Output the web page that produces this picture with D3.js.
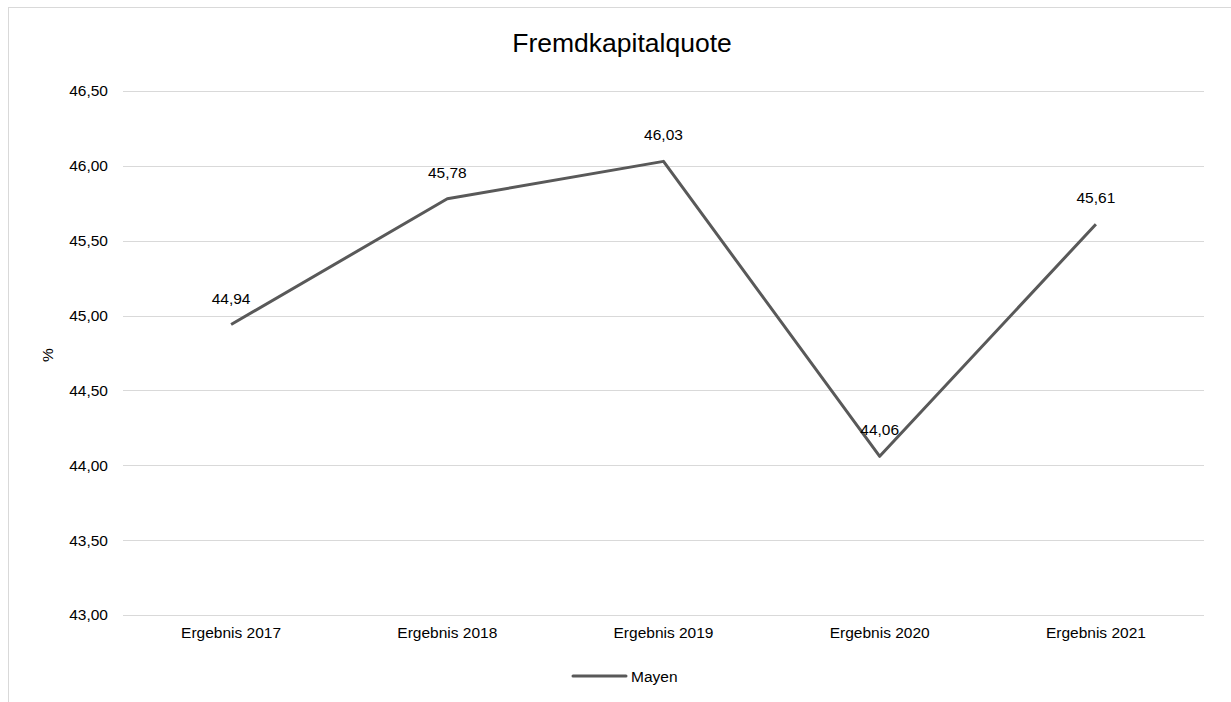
<!DOCTYPE html>
<html>
<head>
<meta charset="utf-8">
<script src="https://cdn.jsdelivr.net/npm/d3@7"></script>
<style>
  body { margin: 0; background: #fff; }
  svg { font-family: "Liberation Sans", Arial, sans-serif; }
</style>
</head>
<body>
<div id="chart"></div>
<script>
// data
var categories = ["Ergebnis 2017", "Ergebnis 2018", "Ergebnis 2019", "Ergebnis 2020", "Ergebnis 2021"];
var values = [44.94, 45.78, 46.03, 44.06, 45.61];
var seriesName = "Mayen";
var yTicks = [43.0, 43.5, 44.0, 44.5, 45.0, 45.5, 46.0, 46.5];

var width = 1231, height = 702;
var margin = { left: 123, right: 27, top: 91, bottom: 87 };
var fs = 15.5;

var fmt = function (v) { return v.toFixed(2).replace(".", ","); };

var svg = d3.select("#chart").append("svg")
    .attr("width", width)
    .attr("height", height);

// chart frame
svg.append("rect")
    .attr("x", 8.5).attr("y", 7.5)
    .attr("width", 1240).attr("height", 720)
    .attr("fill", "none")
    .attr("stroke", "#d9d9d9")
    .attr("stroke-width", 1);

var x = d3.scaleBand()
    .domain(categories)
    .range([margin.left, width - margin.right]);

var y = d3.scaleLinear()
    .domain([43, 46.5])
    .range([height - margin.bottom, margin.top]);

// grid
svg.append("g").selectAll("line")
    .data(yTicks)
    .enter().append("line")
    .attr("x1", margin.left).attr("x2", width - margin.right)
    .attr("y1", function (d) { return Math.round(y(d)) + 0.5; })
    .attr("y2", function (d) { return Math.round(y(d)) + 0.5; })
    .attr("stroke", "#d9d9d9")
    .attr("stroke-width", 1);

// y axis labels
var yAxis = d3.axisLeft(y).tickValues(yTicks).tickFormat(fmt).tickSize(0).tickPadding(15);
var gy = svg.append("g")
    .attr("transform", "translate(" + margin.left + ",0)")
    .call(yAxis);
gy.select(".domain").remove();
gy.selectAll("text").attr("font-size", fs).attr("fill", "#000")
    .attr("font-family", "Liberation Sans, Arial, sans-serif");

// x axis labels
var xAxis = d3.axisBottom(x).tickSize(0).tickPadding(12);
var gx = svg.append("g")
    .attr("transform", "translate(0," + (height - margin.bottom) + ")")
    .call(xAxis);
gx.select(".domain").remove();
gx.selectAll("text").attr("font-size", fs).attr("fill", "#000")
    .attr("font-family", "Liberation Sans, Arial, sans-serif");

// axis title
svg.append("text")
    .attr("transform", "translate(53,355) rotate(-90)")
    .attr("text-anchor", "middle")
    .attr("font-size", fs)
    .text("%");

// title
svg.append("text")
    .attr("x", 622).attr("y", 52)
    .attr("text-anchor", "middle")
    .attr("font-size", 26.5)
    .attr("fill", "#000")
    .text("Fremdkapitalquote");

// line
var line = d3.line()
    .x(function (d, i) { return x(categories[i]) + x.bandwidth() / 2; })
    .y(function (d) { return y(d); });

svg.append("path")
    .datum(values)
    .attr("d", line)
    .attr("fill", "none")
    .attr("stroke", "#595959")
    .attr("stroke-width", 3)
    .attr("stroke-linejoin", "round");

// data labels
svg.append("g").selectAll("text")
    .data(values)
    .enter().append("text")
    .attr("x", function (d, i) { return x(categories[i]) + x.bandwidth() / 2; })
    .attr("y", function (d) { return y(d) - 21; })
    .attr("text-anchor", "middle")
    .attr("font-size", fs)
    .attr("fill", "#000")
    .text(fmt);

// legend
var lg = svg.append("g").attr("transform", "translate(573,676)");
lg.append("line")
    .attr("x1", 0).attr("x2", 53)
    .attr("y1", 0).attr("y2", 0)
    .attr("stroke", "#595959")
    .attr("stroke-width", 3)
    .attr("stroke-linecap", "round");
lg.append("text")
    .attr("x", 58).attr("y", 5.5)
    .attr("font-size", fs)
    .text(seriesName);
</script>
</body>
</html>
